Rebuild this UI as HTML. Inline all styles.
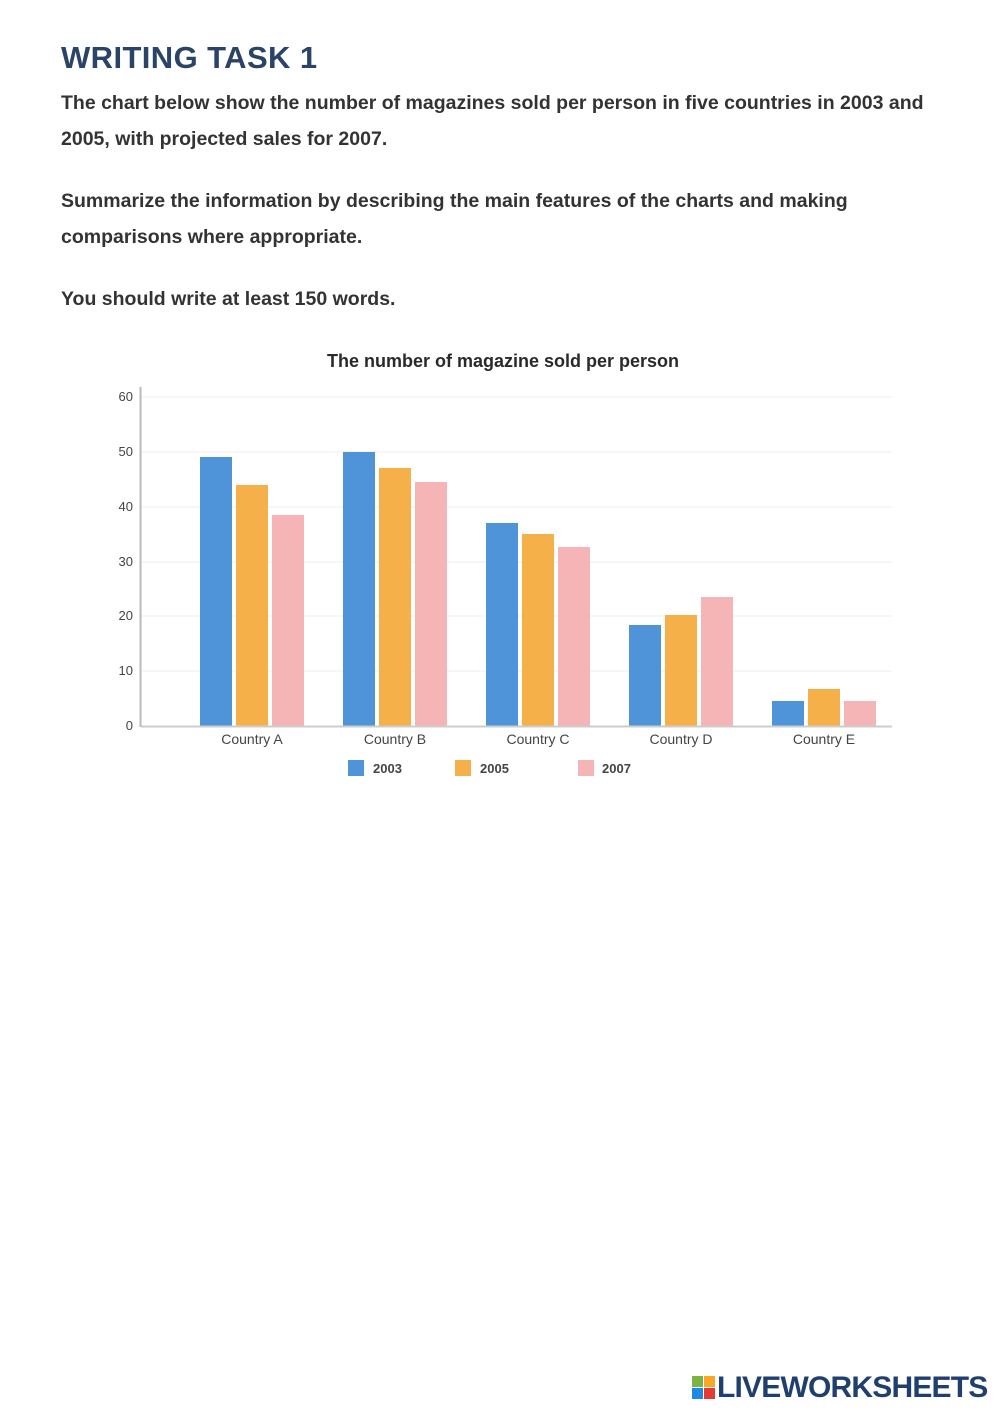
<!DOCTYPE html>
<html><head><meta charset="utf-8"><style>
body{margin:0;width:999px;height:1412px;background:#fff;font-family:"Liberation Sans",sans-serif;position:relative;overflow:hidden}
h1{position:absolute;left:61px;top:40px;margin:0;font-size:31px;font-weight:bold;color:#2a4468;letter-spacing:0.4px}
p{position:absolute;left:61px;margin:0;font-size:19.5px;font-weight:bold;color:#333;line-height:36px;white-space:nowrap}
</style></head><body>
<h1>WRITING TASK 1</h1>
<p style="top:85px">The chart below show the number of magazines sold per person in five countries in 2003 and<br>2005, with projected sales for 2007.</p>
<p style="top:183px">Summarize the information by describing the main features of the charts and making<br>comparisons where appropriate.</p>
<p style="top:281px">You should write at least 150 words.</p>
<svg width="999" height="800" style="position:absolute;left:0;top:0" font-family="Liberation Sans, sans-serif">
<text x="503" y="367" text-anchor="middle" font-size="18" font-weight="bold" fill="#2a2a2a">The number of magazine sold per person</text>
<g stroke="#ececec" stroke-width="1">
<line x1="141" x2="892" y1="397" y2="397"/><line x1="141" x2="892" y1="452" y2="452"/><line x1="141" x2="892" y1="507" y2="507"/><line x1="141" x2="892" y1="562" y2="562"/><line x1="141" x2="892" y1="616" y2="616"/><line x1="141" x2="892" y1="671" y2="671"/>
</g>
<g font-size="13" fill="#444" text-anchor="end">
<text x="133" y="401">60</text><text x="133" y="456">50</text><text x="133" y="511">40</text><text x="133" y="566">30</text><text x="133" y="620">20</text><text x="133" y="675">10</text><text x="133" y="730">0</text>
</g>
<g>
<rect x="200" y="457" width="32" height="269" fill="#4f94d8"/><rect x="236" y="485" width="32" height="241" fill="#f6b04a"/><rect x="272" y="515" width="32" height="211" fill="#f5b4b5"/>
<rect x="343" y="452" width="32" height="274" fill="#4f94d8"/><rect x="379" y="468" width="32" height="258" fill="#f6b04a"/><rect x="415" y="482" width="32" height="244" fill="#f5b4b5"/>
<rect x="486" y="523" width="32" height="203" fill="#4f94d8"/><rect x="522" y="534" width="32" height="192" fill="#f6b04a"/><rect x="558" y="547" width="32" height="179" fill="#f5b4b5"/>
<rect x="629" y="625" width="32" height="101" fill="#4f94d8"/><rect x="665" y="615" width="32" height="111" fill="#f6b04a"/><rect x="701" y="597" width="32" height="129" fill="#f5b4b5"/>
<rect x="772" y="701" width="32" height="25" fill="#4f94d8"/><rect x="808" y="689" width="32" height="37" fill="#f6b04a"/><rect x="844" y="701" width="32" height="25" fill="#f5b4b5"/>
</g>
<line x1="141" x2="892" y1="726.5" y2="726.5" stroke="#ccc" stroke-width="2"/>
<line x1="140.5" x2="140.5" y1="387" y2="727" stroke="#bbb" stroke-width="2"/>
<g font-size="14" fill="#444" text-anchor="middle">
<text x="252" y="744">Country A</text><text x="395" y="744">Country B</text><text x="538" y="744">Country C</text><text x="681" y="744">Country D</text><text x="824" y="744">Country E</text>
</g>
<rect x="348" y="760" width="16" height="16" fill="#4f94d8"/><text x="373" y="773" font-size="13" font-weight="bold" fill="#444">2003</text>
<rect x="455" y="760" width="16" height="16" fill="#f6b04a"/><text x="480" y="773" font-size="13" font-weight="bold" fill="#444">2005</text>
<rect x="578" y="760" width="16" height="16" fill="#f5b4b5"/><text x="602" y="773" font-size="13" font-weight="bold" fill="#444">2007</text>
</svg>
<div style="position:absolute;left:692px;top:1376px;width:24px;height:24px">
<div style="position:absolute;left:0;top:0;width:11px;height:11px;background:#7cb342"></div>
<div style="position:absolute;left:12px;top:0;width:11px;height:11px;background:#f9a825"></div>
<div style="position:absolute;left:0;top:12px;width:11px;height:11px;background:#1e88e5"></div>
<div style="position:absolute;left:12px;top:12px;width:11px;height:11px;background:#e53935"></div>
</div>
<div style="position:absolute;left:717px;top:1371px;font-size:30px;font-weight:bold;color:#1f3f6e;letter-spacing:-0.8px">LIVEWORKSHEETS</div>
</body></html>
